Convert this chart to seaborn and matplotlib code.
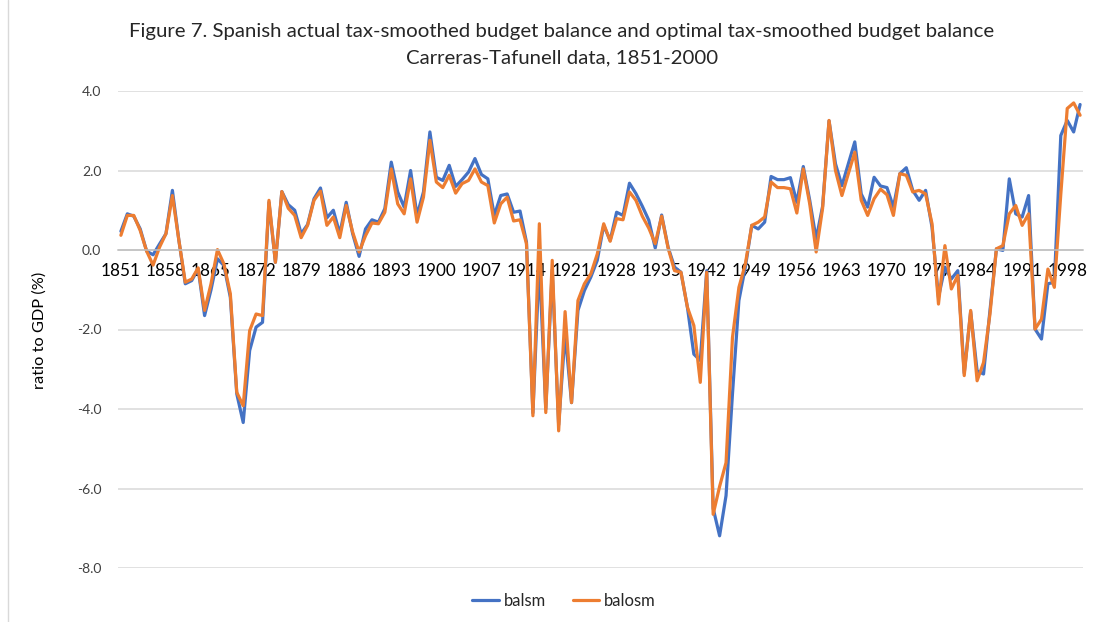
import numpy as np
import pandas as pd
import seaborn as sns
import matplotlib.pyplot as plt
from matplotlib.lines import Line2D

years = list(range(1851, 2001))

balsm = [
    0.47, 0.91, 0.85, 0.53, -0.03, -0.12, 0.15, 0.41, 1.50, 0.25,
    -0.85, -0.77, -0.47, -1.65, -1.00, -0.22, -0.39, -1.19, -3.62, -4.34,
    -2.53, -1.94, -1.82, 1.20, -0.31, 1.47, 1.14, 1.00, 0.41, 0.64,
    1.29, 1.56, 0.81, 1.00, 0.41, 1.20, 0.41, -0.16, 0.53, 0.76,
    0.70, 1.04, 2.21, 1.46, 1.08, 2.00, 0.87, 1.46, 2.97, 1.83,
    1.75, 2.13, 1.60, 1.77, 1.96, 2.30, 1.90, 1.79, 0.87, 1.37,
    1.41, 0.95, 0.98, 0.20, -4.10, -0.30, -4.00, -0.50, -4.40, -2.10,
    -3.84, -1.52, -1.02, -0.68, -0.26, 0.62, 0.24, 0.95, 0.87, 1.68,
    1.42, 1.10, 0.75, 0.05, 0.88, 0.07, -0.43, -0.56, -1.44, -2.62,
    -2.78, -0.52, -6.50, -7.19, -6.18, -3.62, -1.27, -0.43, 0.62, 0.53,
    0.70, 1.85, 1.77, 1.77, 1.82, 1.20, 2.10, 1.25, 0.28, 1.10,
    3.25, 2.17, 1.62, 2.17, 2.72, 1.41, 1.08, 1.83, 1.61, 1.57,
    1.08, 1.92, 2.07, 1.50, 1.25, 1.50, 0.57, -1.19, -0.43, -0.73,
    -0.52, -3.10, -1.55, -3.04, -3.12, -1.52, 0.03, -0.01, 1.79, 0.91,
    0.83, 1.37, -1.99, -2.24, -0.85, -0.81, 2.88, 3.26, 2.97, 3.66,
]

balosm = [
    0.37, 0.87, 0.87, 0.49, -0.03, -0.38, 0.07, 0.41, 1.37, 0.25,
    -0.81, -0.73, -0.45, -1.52, -0.85, 0.01, -0.35, -1.10, -3.58, -3.92,
    -2.03, -1.61, -1.65, 1.25, -0.31, 1.47, 1.05, 0.87, 0.31, 0.62,
    1.25, 1.48, 0.62, 0.83, 0.31, 1.12, 0.45, -0.05, 0.36, 0.68,
    0.66, 0.95, 2.04, 1.16, 0.91, 1.79, 0.70, 1.33, 2.76, 1.71,
    1.57, 1.88, 1.43, 1.67, 1.75, 2.04, 1.71, 1.62, 0.68, 1.16,
    1.33, 0.73, 0.76, 0.16, -4.17, 0.66, -4.09, -0.26, -4.55, -1.55,
    -3.84, -1.27, -0.85, -0.60, -0.10, 0.66, 0.22, 0.79, 0.76, 1.46,
    1.25, 0.85, 0.55, 0.16, 0.85, 0.05, -0.52, -0.56, -1.44, -1.90,
    -3.33, -0.56, -6.65, -5.95, -5.35, -2.20, -0.94, -0.35, 0.62, 0.70,
    0.83, 1.71, 1.57, 1.57, 1.54, 0.93, 2.04, 1.16, -0.05, 1.05,
    3.26, 2.00, 1.37, 1.92, 2.46, 1.25, 0.87, 1.29, 1.53, 1.39,
    0.87, 1.92, 1.88, 1.46, 1.50, 1.41, 0.66, -1.36, 0.11, -0.98,
    -0.64, -3.16, -1.52, -3.29, -2.83, -1.61, 0.03, 0.11, 0.91, 1.12,
    0.62, 0.91, -1.99, -1.74, -0.48, -0.94, 1.40, 3.56, 3.70, 3.39,
]

tick_years = years[::7]
y_ticks = [4.0, 2.0, 0.0, -2.0, -4.0, -6.0, -8.0]

title_1 = "Figure 7. Spanish actual tax-smoothed budget balance and optimal tax-smoothed budget balance"
title_2 = "Carreras-Tafunell data, 1851-2000"

sns.set_style("white")
plt.rcParams['font.family'] = ['Lato', 'DejaVu Sans']

blue = '#4472C4'
orange = '#ED7D31'
grid_c = '#D9D9D9'

fig = plt.figure(figsize=(11.04, 6.22), dpi=100)
ax = fig.add_axes([118 / 1104, 1 - 568 / 622, (1083 - 118) / 1104, (568 - 91) / 622])

df = pd.DataFrame({'year': years, 'balsm': balsm, 'balosm': balosm})
sns.lineplot(data=df, x='year', y='balsm', color=blue, linewidth=2.3, ax=ax, label='balsm')
sns.lineplot(data=df, x='year', y='balosm', color=orange, linewidth=2.3, ax=ax, label='balosm')

ax.set_xlim(1850.55, 2000.45)
ax.set_ylim(-8, 4)
ax.set_yticks(y_ticks)
ax.set_yticklabels([f'{v:.1f}' for v in y_ticks], fontsize=10, color='#404040')
ax.yaxis.grid(True, color=grid_c, linewidth=1.1)
ax.set_axisbelow(True)

for s in ['top', 'right', 'left']:
    ax.spines[s].set_visible(False)
ax.spines['bottom'].set_position(('data', 0))
ax.spines['bottom'].set_color('#BFBFBF')
ax.spines['bottom'].set_linewidth(1.1)

ax.set_xticks(tick_years)
ax.set_xticklabels([str(y) for y in tick_years], fontsize=12.3, color='#000000')
ax.tick_params(axis='x', length=0, pad=9)
ax.tick_params(axis='y', length=0, pad=12)
ax.set_xlabel('')
ax.set_ylabel('')

fig.text(40 / 1104, 1 - 330 / 622, 'ratio to GDP (%)', rotation=90, ha='center', va='center',
         fontsize=11.8, color='#000000')
fig.text(562 / 1104, 1 - 32 / 622, title_1, ha='center', va='center', fontsize=14.7)
fig.text(562 / 1104, 1 - 58 / 622, title_2, ha='center', va='center', fontsize=14.7)

ax.legend(loc='center', bbox_to_anchor=(564 / 1104, 1 - 601 / 622), bbox_transform=fig.transFigure,
          ncol=2, frameon=False, fontsize=12, handlelength=1.6, columnspacing=1.6, handletextpad=0.3)

fig.add_artist(Line2D([8 / 1104, 8 / 1104], [0, 1], transform=fig.transFigure, color=grid_c, linewidth=1))

fig.savefig('out.png', dpi=100)
